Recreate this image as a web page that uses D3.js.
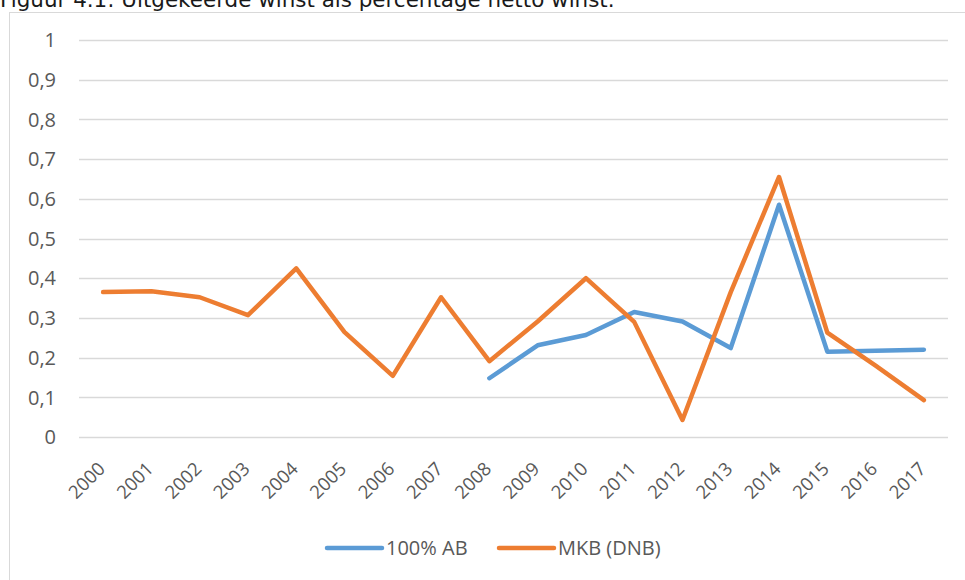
<!DOCTYPE html>
<html>
<head>
<meta charset="utf-8">
<script src="https://cdn.jsdelivr.net/npm/d3@7"></script>
<style>
  html, body { margin: 0; padding: 0; background: #fff; }
  svg { display: block; }
</style>
</head>
<body>
<svg id="chart" width="965" height="580"></svg>
<script>
const years = ["2000","2001","2002","2003","2004","2005","2006","2007","2008","2009","2010","2011","2012","2013","2014","2015","2016","2017"];
const ab100 = [null,null,null,null,null,null,null,null,0.148,0.231,0.257,0.315,0.291,0.224,0.585,0.215,0.217,0.220];
const mkb = [0.365,0.367,0.352,0.307,0.425,0.264,0.154,0.352,0.191,0.291,0.400,0.290,0.043,0.365,0.655,0.263,0.180,0.093];
const yTicks = [0,0.1,0.2,0.3,0.4,0.5,0.6,0.7,0.8,0.9,1];
const seriesNames = ["100% AB", "MKB (DNB)"];
const colors = ["#5B9BD5", "#ED7D31"];
const title = "Figuur 4.1: Uitgekeerde winst als percentage netto winst.";

const svg = d3.select("#chart");
const fontAxis = "'Open Sans', sans-serif";
const textColor = "#595959";

// title (clipped at top, as in the source)
const t = svg.append("text")
  .attr("x", 0).attr("y", 7)
  .attr("font-family", "'DejaVu Sans', Verdana, sans-serif")
  .attr("font-size", 20)
  .attr("fill", "#1a1a1a")
  .text(title);
const tw = t.node().getComputedTextLength();
t.attr("font-size", 20 * 615 / tw);

// chart frame
svg.append("rect")
  .attr("x", 9.5).attr("y", 12.5)
  .attr("width", 1000).attr("height", 1000)
  .attr("fill", "none").attr("stroke", "#d9d9d9").attr("stroke-width", 1);

const x = d3.scalePoint().domain(years).range([79, 948]).padding(0.5);
const y = d3.scaleLinear().domain([0, 1]).range([437, 40]);

// gridlines
svg.append("g").selectAll("line").data(yTicks).join("line")
  .attr("x1", 79).attr("x2", 948)
  .attr("y1", d => Math.round(y(d)) + 0.5).attr("y2", d => Math.round(y(d)) + 0.5)
  .attr("stroke", "#d9d9d9").attr("stroke-width", 1.3);

// y labels
const fmt = d => String(Math.round(d * 10) / 10).replace(".", ",");
svg.append("g").selectAll("text").data(yTicks).join("text")
  .attr("x", 56).attr("y", d => y(d))
  .attr("dy", "0.36em")
  .attr("text-anchor", "end")
  .attr("font-family", fontAxis).attr("font-size", 20)
  .attr("fill", textColor)
  .text(fmt);

// x labels
svg.append("g").selectAll("text").data(years).join("text")
  .attr("transform", d => `translate(${x(d) + 3},${470}) rotate(-45)`)
  .attr("text-anchor", "end")
  .attr("font-family", fontAxis).attr("font-size", 18.5)
  .attr("fill", textColor)
  .text(d => d);

// lines
const line = d3.line()
  .defined(d => d.v != null)
  .x(d => x(d.year))
  .y(d => y(d.v));

[ab100, mkb].forEach((vals, i) => {
  const data = years.map((yr, j) => ({ year: yr, v: vals[j] }));
  svg.append("path")
    .datum(data)
    .attr("d", line)
    .attr("fill", "none")
    .attr("stroke", colors[i])
    .attr("stroke-width", 4.5)
    .attr("stroke-linecap", "round")
    .attr("stroke-linejoin", "round");
});

// legend
const legendX = [327, 499];
const lg = svg.append("g");
seriesNames.forEach((name, i) => {
  lg.append("line")
    .attr("x1", legendX[i]).attr("x2", legendX[i] + 55)
    .attr("y1", 548).attr("y2", 548)
    .attr("stroke", colors[i]).attr("stroke-width", 4.5)
    .attr("stroke-linecap", "round");
  lg.append("text")
    .attr("x", legendX[i] + 59).attr("y", 548)
    .attr("dy", "0.36em")
    .attr("font-family", fontAxis).attr("font-size", 20)
    .attr("fill", textColor)
    .text(name);
});
</script>
</body>
</html>
